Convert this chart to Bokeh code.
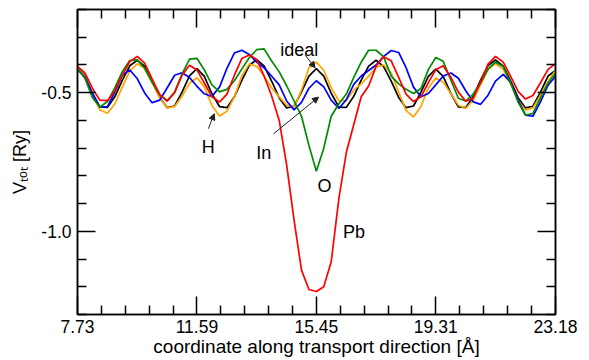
from bokeh.plotting import figure
from bokeh.models import (Range1d, LinearAxis, FixedTicker, Label, Arrow,
                          NormalHead, PrintfTickFormatter, CustomJSTickFormatter)
from bokeh.embed import file_html
from bokeh.resources import INLINE

# ---------------- data ----------------
x = [7.73, 7.97, 8.21, 8.45, 8.70, 8.94, 9.18, 9.42, 9.66, 9.90, 10.14, 10.39,
     10.63, 10.87, 11.11, 11.35, 11.59, 11.83, 12.07, 12.32, 12.56, 12.80, 13.04,
     13.28, 13.52, 13.76, 14.00, 14.25, 14.49, 14.73, 14.97, 15.21, 15.45, 15.69,
     15.93, 16.18, 16.42, 16.66, 16.90, 17.14, 17.38, 17.62, 17.87, 18.11, 18.35,
     18.59, 18.83, 19.07, 19.31, 19.55, 19.80, 20.04, 20.28, 20.52, 20.76, 21.00,
     21.24, 21.49, 21.73, 21.97, 22.21, 22.45, 22.69, 22.94, 23.18]

ideal = [-0.413, -0.440, -0.502, -0.551, -0.553, -0.514, -0.455, -0.403, -0.383,
         -0.404, -0.458, -0.518, -0.554, -0.548, -0.498, -0.439, -0.413, -0.441,
         -0.503, -0.550, -0.554, -0.515, -0.456, -0.402, -0.381, -0.403, -0.457,
         -0.519, -0.555, -0.549, -0.497, -0.440, -0.413, -0.440, -0.502, -0.552,
         -0.553, -0.513, -0.455, -0.404, -0.383, -0.405, -0.458, -0.517, -0.554,
         -0.548, -0.499, -0.441, -0.415, -0.441, -0.503, -0.551, -0.554, -0.514,
         -0.455, -0.402, -0.382, -0.404, -0.458, -0.518, -0.555, -0.549, -0.499,
         -0.440, -0.420]

h_def = [-0.415, -0.440, -0.504, -0.562, -0.574, -0.540, -0.479, -0.422, -0.396,
         -0.412, -0.462, -0.519, -0.555, -0.550, -0.512, -0.466, -0.446, -0.479,
         -0.545, -0.584, -0.567, -0.515, -0.440, -0.397, -0.405, -0.440, -0.482,
         -0.515, -0.545, -0.552, -0.491, -0.410, -0.390, -0.419, -0.482, -0.530,
         -0.528, -0.490, -0.468, -0.440, -0.408, -0.400, -0.429, -0.498, -0.564,
         -0.588, -0.550, -0.484, -0.447, -0.462, -0.504, -0.545, -0.557, -0.527,
         -0.470, -0.416, -0.395, -0.416, -0.469, -0.527, -0.563, -0.555, -0.510,
         -0.460, -0.420]

in_def = [-0.417, -0.444, -0.503, -0.551, -0.550, -0.497, -0.436, -0.418, -0.449,
          -0.501, -0.536, -0.527, -0.482, -0.437, -0.428, -0.445, -0.477, -0.504,
          -0.514, -0.480, -0.412, -0.357, -0.347, -0.362, -0.390, -0.410, -0.440,
          -0.472, -0.530, -0.562, -0.535, -0.484, -0.457, -0.479, -0.527, -0.557,
          -0.525, -0.470, -0.440, -0.420, -0.400, -0.370, -0.348, -0.355, -0.410,
          -0.480, -0.515, -0.503, -0.472, -0.440, -0.429, -0.448, -0.493, -0.533,
          -0.542, -0.509, -0.458, -0.434, -0.462, -0.527, -0.581, -0.585, -0.534,
          -0.473, -0.441]

o_def = [-0.413, -0.448, -0.517, -0.552, -0.532, -0.482, -0.424, -0.384, -0.381,
         -0.412, -0.463, -0.509, -0.528, -0.498, -0.432, -0.379, -0.376, -0.418,
         -0.471, -0.497, -0.488, -0.457, -0.415, -0.374, -0.345, -0.342, -0.385,
         -0.425, -0.475, -0.530, -0.585, -0.690, -0.783, -0.700, -0.585, -0.540,
         -0.505, -0.445, -0.390, -0.347, -0.347, -0.370, -0.440, -0.468, -0.488,
         -0.503, -0.485, -0.417, -0.373, -0.387, -0.455, -0.520, -0.530, -0.505,
         -0.465, -0.415, -0.390, -0.406, -0.464, -0.534, -0.581, -0.575, -0.520,
         -0.465, -0.430]

pb_def = [-0.405, -0.429, -0.484, -0.527, -0.529, -0.493, -0.437, -0.388, -0.369,
          -0.393, -0.450, -0.507, -0.531, -0.500, -0.437, -0.401, -0.418, -0.465,
          -0.514, -0.534, -0.505, -0.437, -0.377, -0.364, -0.380, -0.440, -0.510,
          -0.600, -0.760, -0.960, -1.140, -1.210, -1.217, -1.200, -1.110, -0.880,
          -0.715, -0.615, -0.515, -0.476, -0.405, -0.370, -0.385, -0.445, -0.505,
          -0.532, -0.515, -0.464, -0.417, -0.403, -0.445, -0.498, -0.531, -0.520,
          -0.462, -0.397, -0.369, -0.390, -0.441, -0.495, -0.523, -0.510, -0.465,
          -0.416, -0.395]

x_major = [7.73, 11.59, 15.45, 19.31, 23.18]
x_minor = [8.50, 9.27, 10.05, 10.82, 12.36, 13.14, 13.91, 14.68,
           16.22, 17.00, 17.77, 18.54, 20.08, 20.86, 21.63, 22.41]
y_major = [-1.0, -0.5]
y_minor = [-1.3, -1.2, -1.1, -0.9, -0.8, -0.7, -0.6, -0.4, -0.3, -0.2]

x_title = "coordinate along transport direction [Å]"
y_title = "Vₜₒₜ [Ry]"

series = [("ideal", ideal, "#000000"), ("H", h_def, "#FFA500"),
          ("In", in_def, "#0000FF"), ("O", o_def, "#008B00"),
          ("Pb", pb_def, "#FF0000")]

# annotation texts: (text, x, y)
notes = [("ideal", 14.28, -0.347), ("H", 11.75, -0.697), ("In", 13.51, -0.717),
         ("O", 15.49, -0.837), ("Pb", 16.31, -1.004)]
# arrows: (x_start, y_start, x_end, y_end)
arrows = [(15.09, -0.365, 15.41, -0.410), (11.96, -0.630, 12.15, -0.576),
          (14.07, -0.648, 15.52, -0.516)]

FONT = "Liberation Sans"

p = figure(width=589, height=360, output_backend="svg", toolbar_location=None,
           x_range=Range1d(7.73, 23.18), y_range=Range1d(-1.3, -0.2),
           x_axis_location=None, y_axis_location=None,
           min_border_left=77, min_border_right=34, min_border_top=9,
           min_border_bottom=46)
p.xgrid.visible = False
p.ygrid.visible = False
p.outline_line_color = "black"
p.outline_line_width = 1.5
p.background_fill_color = "white"
p.border_fill_color = "white"


def style_axis(ax, labels):
    ax.axis_line_color = "black"
    ax.axis_line_width = 1.5
    ax.major_tick_line_color = "black"
    ax.major_tick_line_width = 1.5
    ax.minor_tick_line_color = "black"
    ax.minor_tick_line_width = 1.5
    ax.major_tick_in = 18
    ax.major_tick_out = 0
    ax.minor_tick_in = 9
    ax.minor_tick_out = 0
    if labels:
        ax.major_label_text_font = FONT
        ax.major_label_text_font_size = "17.5px"
        ax.major_label_text_color = "black"
        ax.major_label_standoff = 6
        ax.axis_label_text_font = FONT
        ax.axis_label_text_font_size = "18px"
        ax.axis_label_text_font_style = "normal"
        ax.axis_label_text_color = "black"
    else:
        ax.formatter = CustomJSTickFormatter(code="return ''")
        ax.major_label_standoff = 0
        ax.major_label_text_font_size = "1px"


for loc in ("below", "above"):
    ax = LinearAxis(ticker=FixedTicker(ticks=x_major, minor_ticks=x_minor),
                    formatter=PrintfTickFormatter(format="%.2f"))
    style_axis(ax, loc == "below")
    if loc == "below":
        ax.axis_label = x_title
        ax.axis_label_standoff = 0
        ax.major_label_standoff = 5
        ax.axis_label_text_font_size = "19px"
    p.add_layout(ax, loc)

for loc in ("left", "right"):
    ax = LinearAxis(ticker=FixedTicker(ticks=y_major, minor_ticks=y_minor),
                    formatter=PrintfTickFormatter(format="%.1f"))
    style_axis(ax, loc == "left")
    if loc == "left":
        ax.axis_label = y_title
        ax.axis_label_standoff = 8
    p.add_layout(ax, loc)

for name, ys, col in series:
    p.line(x, ys, line_color=col, line_width=1.7)

for txt, tx, ty in notes:
    p.add_layout(Label(x=tx, y=ty, text=txt, text_font=FONT,
                       text_font_size="18px", text_color="black",
                       text_baseline="alphabetic", text_align="left"))

for xs, ys, xe, ye in arrows:
    p.add_layout(Arrow(x_start=xs, y_start=ys, x_end=xe, y_end=ye,
                       line_color="#222222", line_width=1,
                       end=NormalHead(size=6, fill_color="#222222",
                                      line_color="#222222")))

open("out.html", "w").write(file_html(p, INLINE))
